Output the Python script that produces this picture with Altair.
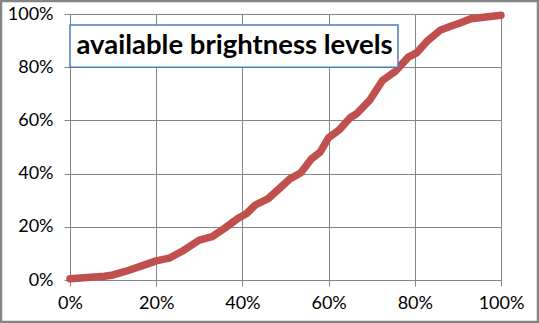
import altair as alt
import pandas as pd

# Share of input range (x) vs. share of brightness levels reached (y)
level = [0.00, 0.04, 0.08, 0.10, 0.13, 0.17, 0.20, 0.23, 0.26, 0.30,
         0.33, 0.36, 0.39, 0.41, 0.43, 0.46, 0.49, 0.51, 0.535, 0.56,
         0.58, 0.60, 0.625, 0.65, 0.665, 0.695, 0.725, 0.755, 0.785, 0.805,
         0.83, 0.86, 0.88, 0.905, 0.93, 0.965, 1.00]
brightness = [0.005, 0.009, 0.014, 0.019, 0.033, 0.055, 0.072, 0.082, 0.108, 0.150,
              0.163, 0.196, 0.232, 0.250, 0.282, 0.306, 0.350, 0.380, 0.402, 0.455,
              0.480, 0.535, 0.565, 0.610, 0.625, 0.675, 0.750, 0.785, 0.838, 0.855,
              0.900, 0.940, 0.952, 0.966, 0.982, 0.989, 0.995]

tick_values = [0, 0.2, 0.4, 0.6, 0.8, 1.0]
label_text = ["available brightness levels"]

df = pd.DataFrame({"level": level, "brightness": brightness})
box = pd.DataFrame({"x0": [0.0], "x1": [0.761], "y0": [0.80], "y1": [0.959],
                    "tx": [0.015], "ty": [0.878], "label": label_text})

GRID = "#868686"
FONT = "Lato"

x_scale = alt.Scale(domain=[0, 1], nice=False, zero=False)
y_scale = alt.Scale(domain=[0, 1], nice=False, zero=False)

x_axis = alt.Axis(format="%", values=tick_values, title=None, labelPadding=8,
                  labelFlush=False)
y_axis = alt.Axis(format="%", values=tick_values, title=None, labelPadding=11,
                  labelFlush=False)

curve = alt.Chart(df).mark_line(
    color="#C0504D", strokeWidth=7.5, strokeCap="round", strokeJoin="round"
).encode(
    x=alt.X("level:Q", scale=x_scale, axis=x_axis),
    y=alt.Y("brightness:Q", scale=y_scale, axis=y_axis),
)

frame = alt.Chart(box).mark_rect(
    fill="white", stroke="#4A7EBB", strokeWidth=1.5
).encode(
    x=alt.X("x0:Q", scale=x_scale),
    x2="x1:Q",
    y=alt.Y("y0:Q", scale=y_scale),
    y2="y1:Q",
)

caption = alt.Chart(box).mark_text(
    align="left", baseline="middle", font=FONT, fontWeight="bold",
    fontSize=27.5, color="black"
).encode(
    x=alt.X("tx:Q", scale=x_scale),
    y=alt.Y("ty:Q", scale=y_scale),
    text="label:N",
)

# Outer chart border around the whole canvas
border = alt.Chart(box).mark_rect(
    fill=None, stroke="#858585", strokeWidth=2.5
).encode(
    x=alt.value(-69), x2=alt.value(468),
    y=alt.value(-13), y2=alt.value(308),
)

chart = alt.layer(curve, frame, caption, border).properties(
    width=431, height=266,
    autosize=alt.AutoSizeParams(type="none"),
    padding={"left": 70, "top": 14, "right": 38, "bottom": 43},
    background="white",
).configure_view(
    stroke=GRID, strokeWidth=1
).configure_axis(
    grid=True, gridColor=GRID, gridWidth=1,
    domainColor=GRID, domainWidth=1,
    tickColor=GRID, tickSize=6, tickWidth=1,
    labelFont=FONT, labelFontSize=18, labelColor="black",
)

chart.save("out.html", embed_options={"renderer": "svg", "actions": False})
